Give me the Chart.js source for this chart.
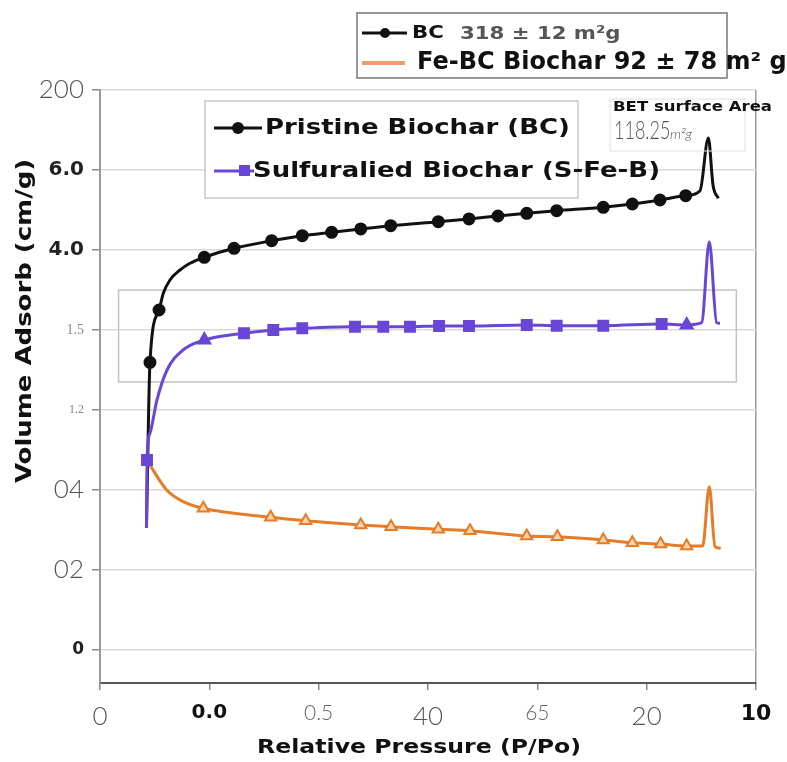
<!DOCTYPE html>
<html>
<head>
<meta charset="utf-8">
<script src="https://cdn.jsdelivr.net/npm/chart.js@4.4.1/dist/chart.umd.min.js"></script>
<style>
  body { margin: 0; background: #fff; }
  #wrap { width: 787px; height: 762px; position: relative; }
</style>
</head>
<body>
<div id="wrap"><canvas id="isoChart"></canvas></div>
<script>
// axis tick labels (one per grid step)
const xTickLabels = ['0', '0.0', '0.5', '40', '65', '20', '10'];
const yTickLabels = ['0', '02', '04', '1.2', '1.5', '4.0', '6.0', '200'];

// Pristine biochar (BC)
const bcCurveX = [0.425, 0.579, 0.640, 0.732, 0.823, 5.488, 5.564, 5.607, 5.655];
const bcCurveY = [1.525, 4.459, 4.625, 4.750, 4.834, 5.741, 6.400, 5.810, 5.646];
const bcX = [0.457, 0.540, 0.954, 1.226, 1.570, 1.850, 2.119, 2.385, 2.659, 3.094, 3.375, 3.640, 3.903, 4.177, 4.603, 4.869, 5.122, 5.357];
const bcY = [3.596, 4.250, 4.909, 5.021, 5.116, 5.179, 5.221, 5.263, 5.304, 5.354, 5.388, 5.425, 5.459, 5.491, 5.534, 5.575, 5.625, 5.679];

// Sulfuralied biochar (S-Fe-B)
const sfbCurveX = [0.425, 0.457, 0.521, 0.613, 0.759, 5.503, 5.573, 5.640, 5.671];
const sfbCurveY = [1.525, 2.710, 3.125, 3.500, 3.750, 4.091, 5.104, 4.091, 4.084];
const sfbX = [0.430, 0.954, 1.317, 1.585, 1.850, 2.332, 2.591, 2.835, 3.101, 3.375, 3.903, 4.177, 4.603, 5.137, 5.366];
const sfbY = [2.375, 3.875, 3.959, 4.000, 4.021, 4.041, 4.041, 4.041, 4.050, 4.050, 4.063, 4.054, 4.054, 4.075, 4.063];

// Fe-BC biochar
const febcCurveX = [0.439, 0.610, 0.762, 5.512, 5.573, 5.625, 5.677];
const febcCurveY = [2.350, 2.000, 1.854, 1.300, 2.041, 1.291, 1.271];
const febcX = [0.945, 1.561, 1.881, 2.385, 2.662, 3.094, 3.384, 3.903, 4.183, 4.603, 4.869, 5.128, 5.366];
const febcY = [1.771, 1.659, 1.616, 1.563, 1.541, 1.509, 1.491, 1.425, 1.416, 1.375, 1.341, 1.325, 1.300];

const toPoints = function (xs, ys) {
    return xs.map((x, i) => ({ x: x, y: ys[i] }));
};

// full curve = marked points plus the unmarked points, in x order
const curvePoints = function (markX, markY, extraX, extraY) {
    return toPoints(markX, markY).concat(toPoints(extraX, extraY)).sort((a, b) => a.x - b.x);
};

const BLACK = '#111111';
const PURPLE = '#6a46d6';
const ORANGE = '#e57c28';

const thinFont = { family: 'Lato', weight: 300, size: 26 };
const boldFont = { family: 'DejaVu Sans', weight: 'bold', size: 20 };

const yTickFonts = [
    { family: 'DejaVu Sans', weight: 'bold', size: 17 },
    thinFont, thinFont,
    { family: 'Liberation Sans Narrow', size: 12 },
    { family: 'Liberation Sans Narrow', size: 14 },
    boldFont, boldFont, thinFont
];
const yTickColors = ['#222', '#555', '#555', '#888', '#888', '#222', '#222', '#555'];
const xTickFonts = [thinFont, boldFont, { family: 'Lato', weight: 300, size: 21 }, thinFont,
    { family: 'Lato', weight: 300, size: 21 }, thinFont, { family: 'DejaVu Sans', weight: 'bold', size: 22 }];
const xTickColors = ['#555', '#111', '#666', '#555', '#666', '#555', '#111'];

const lineSet = function (points, color) {
    return {
        data: points,
        borderColor: color,
        borderWidth: 3,
        pointRadius: 0,
        cubicInterpolationMode: 'monotone',
        fill: false
    };
};

const markerSet = function (points, style, fillColor, strokeColor, radius) {
    return {
        data: points,
        showLine: false,
        pointStyle: style,
        pointRadius: radius,
        pointBackgroundColor: fillColor,
        pointBorderColor: strokeColor,
        pointBorderWidth: 2
    };
};

// text squeezed or widened along its own direction
const drawText = function (ctx, text, x, y, font, color, stretch, angle) {
    ctx.save();
    ctx.translate(x, y);
    if (angle) ctx.rotate(angle);
    ctx.scale(stretch, 1);
    ctx.font = font;
    ctx.fillStyle = color;
    ctx.fillText(text, 0, 0);
    ctx.restore();
};

// legend boxes, axis titles, inset frame and BET note
const annotations = {
    id: 'annotations',
    beforeDatasetsDraw(chart) {
        const ctx = chart.ctx;
        const xs = chart.scales.x, ys = chart.scales.y;
        ctx.save();
        ctx.strokeStyle = '#c2c2c2';
        ctx.lineWidth = 1.5;
        const l = xs.getPixelForValue(0.17), r = xs.getPixelForValue(5.82);
        const t = ys.getPixelForValue(4.5), b = ys.getPixelForValue(3.35);
        ctx.strokeRect(l, t, r - l, b - t);
        ctx.restore();
    },
    afterDraw(chart) {
        const ctx = chart.ctx;
        const W = 1.18;
        ctx.save();
        ctx.textBaseline = 'middle';

        // axis titles
        ctx.textAlign = 'center';
        drawText(ctx, 'Relative Pressure (P/Po)', 419, 748, 'bold 20px "DejaVu Sans"', '#111', W);
        drawText(ctx, 'Volume Adsorb (cm/g)', 25, 321, 'bold 22px "DejaVu Sans"', '#111', W, -Math.PI / 2);
        ctx.textAlign = 'left';

        // legend inside the plot
        ctx.fillStyle = '#fff';
        ctx.fillRect(205, 101, 373, 97);
        ctx.strokeStyle = '#c8c8c8';
        ctx.lineWidth = 1.5;
        ctx.strokeRect(205, 101, 373, 97);
        ctx.lineWidth = 3;
        ctx.strokeStyle = BLACK;
        ctx.beginPath(); ctx.moveTo(214, 128); ctx.lineTo(262, 128); ctx.stroke();
        ctx.fillStyle = BLACK;
        ctx.beginPath(); ctx.arc(238, 128, 6, 0, Math.PI * 2); ctx.fill();
        ctx.strokeStyle = PURPLE;
        ctx.beginPath(); ctx.moveTo(214, 171); ctx.lineTo(254, 171); ctx.stroke();
        ctx.fillStyle = PURPLE;
        ctx.fillRect(239, 165, 11, 11);
        drawText(ctx, 'Pristine Biochar (BC)', 265, 128, 'bold 22px "DejaVu Sans"', '#111', W);
        drawText(ctx, 'Sulfuralied Biochar (S-Fe-B)', 253, 171, 'bold 22px "DejaVu Sans"', '#111', W);

        // legend above the plot
        ctx.strokeStyle = '#777';
        ctx.lineWidth = 1.5;
        ctx.strokeRect(357, 13, 370, 65);
        ctx.strokeStyle = BLACK;
        ctx.lineWidth = 3;
        ctx.beginPath(); ctx.moveTo(362, 33); ctx.lineTo(407, 33); ctx.stroke();
        ctx.fillStyle = BLACK;
        ctx.beginPath(); ctx.arc(385, 33, 5, 0, Math.PI * 2); ctx.fill();
        ctx.strokeStyle = '#eaa066';
        ctx.lineWidth = 4;
        ctx.beginPath(); ctx.moveTo(362, 63); ctx.lineTo(405, 63); ctx.stroke();
        drawText(ctx, 'BC', 412, 33, 'bold 18px "DejaVu Sans"', '#111', W);
        drawText(ctx, '318 \u00b1 12 m\u00b2g', 460, 34, 'bold 18px "DejaVu Sans"', '#555', W);
        drawText(ctx, 'Fe-BC Biochar 92 \u00b1 78 m\u00b2 g', 417, 63, 'bold 24px "DejaVu Sans"', '#111', 1.0);

        // BET note
        ctx.strokeStyle = '#e2e2e2';
        ctx.lineWidth = 1;
        ctx.strokeRect(610, 99, 135, 52);
        drawText(ctx, 'BET surface Area', 613, 107, 'bold 14px "DejaVu Sans"', '#111', W);
        drawText(ctx, '118.25', 614, 131, '300 25px Lato', '#555', 0.72);
        drawText(ctx, 'm\u00b2g', 670, 134, 'italic 300 14px Lato', '#555', 1.0);
        ctx.restore();
    }
};

const ctx = document.getElementById('isoChart').getContext('2d');
const isoChart = new Chart(ctx, {
    type: 'line',
    data: {
        datasets: [
            markerSet(toPoints(sfbX, sfbY), (c) => (c.dataIndex === 1 || c.dataIndex === sfbX.length - 1) ? 'triangle' : 'rect', PURPLE, PURPLE, 7),
            markerSet(toPoints(bcX, bcY), 'circle', BLACK, BLACK, 5.5),
            markerSet(toPoints(febcX, febcY), 'triangle', '#fcd3a6', ORANGE, 6.5),
            lineSet(curvePoints(sfbX, sfbY, sfbCurveX, sfbCurveY), PURPLE),
            lineSet(curvePoints(febcX, febcY, febcCurveX, febcCurveY), ORANGE),
            lineSet(curvePoints(bcX, bcY, bcCurveX, bcCurveY), BLACK)
        ]
    },
    options: {
        responsive: true,
        maintainAspectRatio: false,
        animation: false,
        layout: { padding: { top: 90, right: 31, left: 0, bottom: 0 } },
        plugins: { legend: { display: false }, tooltip: { enabled: false } },
        scales: {
            x: {
                type: 'linear',
                min: 0,
                max: 6,
                afterFit: (scale) => { scale.height = 79; },
                afterBuildTicks: (scale) => { scale.ticks = xTickLabels.map((_, i) => ({ value: i })); },
                border: { color: '#555', width: 2 },
                grid: {
                    color: (c) => c.index === xTickLabels.length - 1 ? '#9a9a9a' : 'rgba(0,0,0,0)',
                    lineWidth: 1.5,
                    tickColor: '#888',
                    tickLength: 7
                },
                ticks: {
                    padding: 11,
                    maxRotation: 0,
                    autoSkip: false,
                    callback: (value) => xTickLabels[value],
                    font: (c) => xTickFonts[c.index],
                    color: (c) => xTickColors[c.index]
                }
            },
            y: {
                min: -0.4125,
                max: 7,
                afterFit: (scale) => { scale.width = 100; },
                afterBuildTicks: (scale) => { scale.ticks = yTickLabels.map((_, i) => ({ value: i })); },
                border: { color: '#9a9a9a', width: 2 },
                grid: {
                    color: '#d9d9d9',
                    lineWidth: 1.5,
                    tickColor: '#888',
                    tickLength: 8
                },
                ticks: {
                    padding: 8,
                    autoSkip: false,
                    callback: (value) => yTickLabels[value],
                    font: (c) => yTickFonts[c.index],
                    color: (c) => yTickColors[c.index]
                }
            }
        }
    },
    plugins: [annotations]
});
</script>
</body>
</html>
